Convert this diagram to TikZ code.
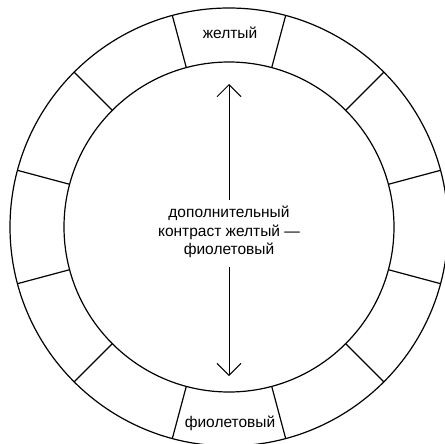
\documentclass[tikz,border=0pt]{standalone}
\usepackage{fontspec}
\setmainfont{Liberation Sans}
\usetikzlibrary{arrows.meta,calc}
\begin{document}
\begin{tikzpicture}[x=1pt,y=-1pt,
  ring/.style={line width=1.2pt},
  divider/.style={line width=1.2pt},
  lbl/.style={font=\fontsize{15.5}{17}\selectfont, inner sep=0pt},
  centre/.style={font=\fontsize{15.5}{18.5}\selectfont, align=center, inner sep=0pt},
  arr/.style={line width=1pt, -{Straight Barb[length=12pt,width=24pt,line width=1pt]}}]
\useasboundingbox (0,0) rectangle (445,444);
\fill[white] (0,0) rectangle (445,444);
\coordinate (c) at (229,227);
\draw[ring] (c) circle[radius=219];
\draw[ring] (c) circle[radius=165];
\foreach \a in {15,45,...,345}
  \draw[divider] ($(c)+(\a:165)$) -- ($(c)+(\a:219)$);
\node[lbl] (yellow) at (230,33) {желтый};
\node[lbl] (violet) at (230,423) {фиолетовый};
\node[centre] (txt) at (229,232) {дополнительный\\контраст желтый —\\фиолетовый};
\coordinate (atop) at (229,84);
\coordinate (abot) at (229,376);
\coordinate (ls) at (229,200);
\coordinate (le) at (229,267);
\draw[arr] (ls) -- (atop);
\draw[arr] (le) -- (abot);
\end{tikzpicture}
\end{document}
